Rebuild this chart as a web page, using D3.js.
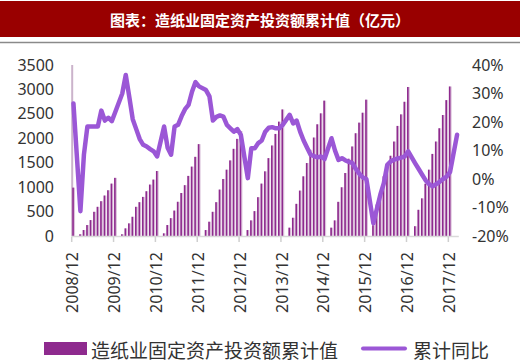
<!DOCTYPE html>
<html>
<head>
<meta charset="utf-8">
<script src="https://cdn.jsdelivr.net/npm/d3@7"></script>
<style>
  html, body { margin: 0; padding: 0; background: #fff; }
  #chart { width: 520px; height: 362px; }
</style>
</head>
<body>
<div id="chart"></div>
<script>
// 造纸业固定资产投资额累计值（亿元） + 累计同比
const titleText = "图表：造纸业固定资产投资额累计值（亿元）";
const barName = "造纸业固定资产投资额累计值";
const lineName = "累计同比";

// categories: 2008/12 .. 2018/02, monthly
const months = ["2008/12"];
for (let y = 2009; y <= 2018; y++) {
  for (let m = 1; m <= 12; m++) {
    if (y === 2018 && m > 2) break;
    months.push(`${y}/${String(m).padStart(2, "0")}`);
  }
}
const tickLabels = ["2008/12","2009/12","2010/12","2011/12","2012/12","2013/12","2014/12","2015/12","2016/12","2017/12"];

// 累计值（亿元），1月无数据
const invest = [
  990,
  null, 35, 122, 224, 326, 495, 597, 712, 828, 936, 1072, 1190,        // 2009
  null, 35, 156, 258, 393, 597, 692, 800, 916, 1052, 1154, 1330,       // 2010
  null, 54, 224, 365, 520, 700, 880, 1040, 1230, 1420, 1620, 1880,     // 2011
  null, 122, 292, 495, 692, 950, 1167, 1357, 1547, 1784, 1988, 2150,   // 2012
  null, 122, 319, 509, 794, 1072, 1323, 1594, 1852, 2089, 2340, 2590,  // 2013
  null, 170, 373, 658, 929, 1221, 1493, 1764, 2015, 2286, 2510, 2770,  // 2014
  null, 170, 319, 699, 997, 1289, 1581, 1832, 2103, 2320, 2523, 2790,  // 2015
  null, 220, 645, 916, 1221, 1404, 1642, 1933, 2253, 2489, 2747, 3050, // 2016
  null, 200, 536, 770, 1070, 1357, 1680, 1933, 2205, 2476, 2781, 3060, // 2017
  null, null                                                           // 2018
];

// 累计同比（%）
const yoy = [
  26.5,
  null, -11.3, 8.5, 18.4, 18.4, 18.4, 18.4, 24, 20.5, 21.5, 20.3, 23.5, // 2009
  null, 30, 36.5, 28.9, 21, 17.5, 14, 12, 11.4, 10.5, 9.7, 7.9,         // 2010
  null, 18.4, 11, 8.5, 18.4, 19, 22, 24.5, 26, 30.6, 34, 32.5,          // 2011
  null, 31.2, 29, 20.5, 21.8, 22.3, 21.9, 19, 17.8, 16.6, 17.5, 15.5,   // 2012
  null, 0.3, 10.8, 10.8, 12.6, 13.5, 16.6, 18, 18.2, 17.8, 17.8, 19,    // 2013
  null, 22.5, 19.5, 20.5, 16.6, 13.5, 11, 8.5, 8, 7.6, 7.9, 7,          // 2014
  null, 14.3, 10, 6.7, 7.3, 6.5, 6, 5.6, 3.5, 1.8, 0.5, 0,              // 2015
  null, -15.5, -10.5, -5.5, -1.5, 5, 6.2, 6.8, 7.2, 7.5, 7.9, 9.7,      // 2016
  null, 5.5, 3.5, 1.5, -0.5, -1.8, -2.6, -1.8, -1, 0, 0.8, 2.5,         // 2017
  null, 15.5                                                            // 2018
];

const leftTicks = [0, 500, 1000, 1500, 2000, 2500, 3000, 3500];
const rightTicks = [-20, -10, 0, 10, 20, 30, 40];

const W = 520, H = 362;
const barColor = "#8e2a8e";
const lineColor = "#9b57d6";
const textColor = "#333";
const numFont = "'Noto Sans', 'Liberation Sans', sans-serif";
const cjkFont = "'Noto Sans CJK SC', sans-serif";

const svg = d3.select("#chart").append("svg")
  .attr("width", W).attr("height", H);

// === 标题栏 ===
svg.append("rect")
  .attr("x", 0).attr("y", 1).attr("width", W).attr("height", 36)
  .attr("fill", "#990000");
svg.append("line")
  .attr("x1", 0).attr("x2", W).attr("y1", 42.5).attr("y2", 42.5)
  .attr("stroke", "#8a8a8a").attr("stroke-width", 1.6);
svg.append("text")
  .attr("x", W / 2).attr("y", 19.5)
  .attr("text-anchor", "middle").attr("dominant-baseline", "central")
  .attr("fill", "#fff")
  .style("font-family", cjkFont).style("font-size", "15px").style("font-weight", "bold")
  .text(titleText);

// === scales ===
const x = d3.scaleBand().domain(months).range([71.7, 458.8]).padding(0);
const yL = d3.scaleLinear().domain([0, 3500]).range([236, 65]);
const yR = d3.scaleLinear().domain([-20, 40]).range([236, 65]);
const bw = x.bandwidth();

// 左侧竖线
svg.append("line")
  .attr("x1", x("2008/12") + 0.5).attr("x2", x("2008/12") + 0.5)
  .attr("y1", yL(3500)).attr("y2", yL(0))
  .attr("stroke", "#cbb3cb").attr("stroke-width", 2);

// === bars ===
const barData = months.map((m, i) => ({ m, v: invest[i] })).filter(d => d.v != null);
const bars = svg.append("g");
bars.selectAll("rect.bg").data(barData).enter().append("rect")
  .attr("class", "bg")
  .attr("x", d => x(d.m) + bw / 2 - 1.2)
  .attr("width", 2.8)
  .attr("y", d => yL(d.v))
  .attr("height", d => yL(0) - yL(d.v))
  .attr("fill", "#dcc4dc");
bars.selectAll("rect.fg").data(barData).enter().append("rect")
  .attr("class", "fg")
  .attr("x", d => x(d.m) + bw / 2 - 1.2)
  .attr("width", 1.6)
  .attr("y", d => yL(d.v))
  .attr("height", d => yL(0) - yL(d.v))
  .attr("fill", barColor);

// === x axis ===
svg.append("line")
  .attr("x1", x.range()[0]).attr("x2", x.range()[1])
  .attr("y1", 236.5).attr("y2", 236.5)
  .attr("stroke", "#d9d9d9").attr("stroke-width", 1.5);
const xt = svg.append("g");
tickLabels.forEach(t => {
  const tx = x(t);
  xt.append("line")
    .attr("x1", tx).attr("x2", tx).attr("y1", 236.5).attr("y2", 242)
    .attr("stroke", "#cfcfcf").attr("stroke-width", 1.5);
  xt.append("text")
    .attr("transform", `translate(${tx + 1},252) rotate(-90)`)
    .attr("text-anchor", "end").attr("dy", "0.35em")
    .attr("fill", textColor)
    .style("font-family", numFont).style("font-size", "16px")
    .text(t);
});

// === y axes labels ===
svg.append("g").selectAll("text").data(leftTicks).enter().append("text")
  .attr("x", 54).attr("y", d => yL(d)).attr("dy", "0.35em")
  .attr("text-anchor", "end").attr("fill", textColor)
  .style("font-family", numFont).style("font-size", "16px")
  .text(d => d);
svg.append("g").selectAll("text").data(rightTicks).enter().append("text")
  .attr("x", 472).attr("y", d => yR(d)).attr("dy", "0.35em")
  .attr("text-anchor", "start").attr("fill", textColor)
  .style("font-family", numFont).style("font-size", "16px")
  .text(d => d + "%");

// === line ===
const lineData = months.map((m, i) => ({ m, v: yoy[i] })).filter(d => d.v != null);
svg.append("path")
  .datum(lineData)
  .attr("fill", "none")
  .attr("stroke", lineColor)
  .attr("stroke-width", 4.5)
  .attr("stroke-linejoin", "round")
  .attr("stroke-linecap", "round")
  .attr("d", d3.line().x(d => x(d.m) + bw / 2).y(d => yR(d.v)));

// === legend ===
const lg = svg.append("g");
lg.append("rect").attr("x", 44).attr("y", 342).attr("width", 43).attr("height", 13).attr("fill", barColor);
lg.append("text").attr("x", 91).attr("y", 349).attr("dominant-baseline", "central")
  .attr("fill", textColor).style("font-family", cjkFont).style("font-size", "19px")
  .text(barName);
lg.append("line").attr("x1", 363).attr("x2", 405).attr("y1", 348.5).attr("y2", 348.5)
  .attr("stroke", lineColor).attr("stroke-width", 4).attr("stroke-linecap", "round");
lg.append("text").attr("x", 413).attr("y", 349).attr("dominant-baseline", "central")
  .attr("fill", textColor).style("font-family", cjkFont).style("font-size", "19px")
  .text(lineName);
</script>
</body>
</html>
